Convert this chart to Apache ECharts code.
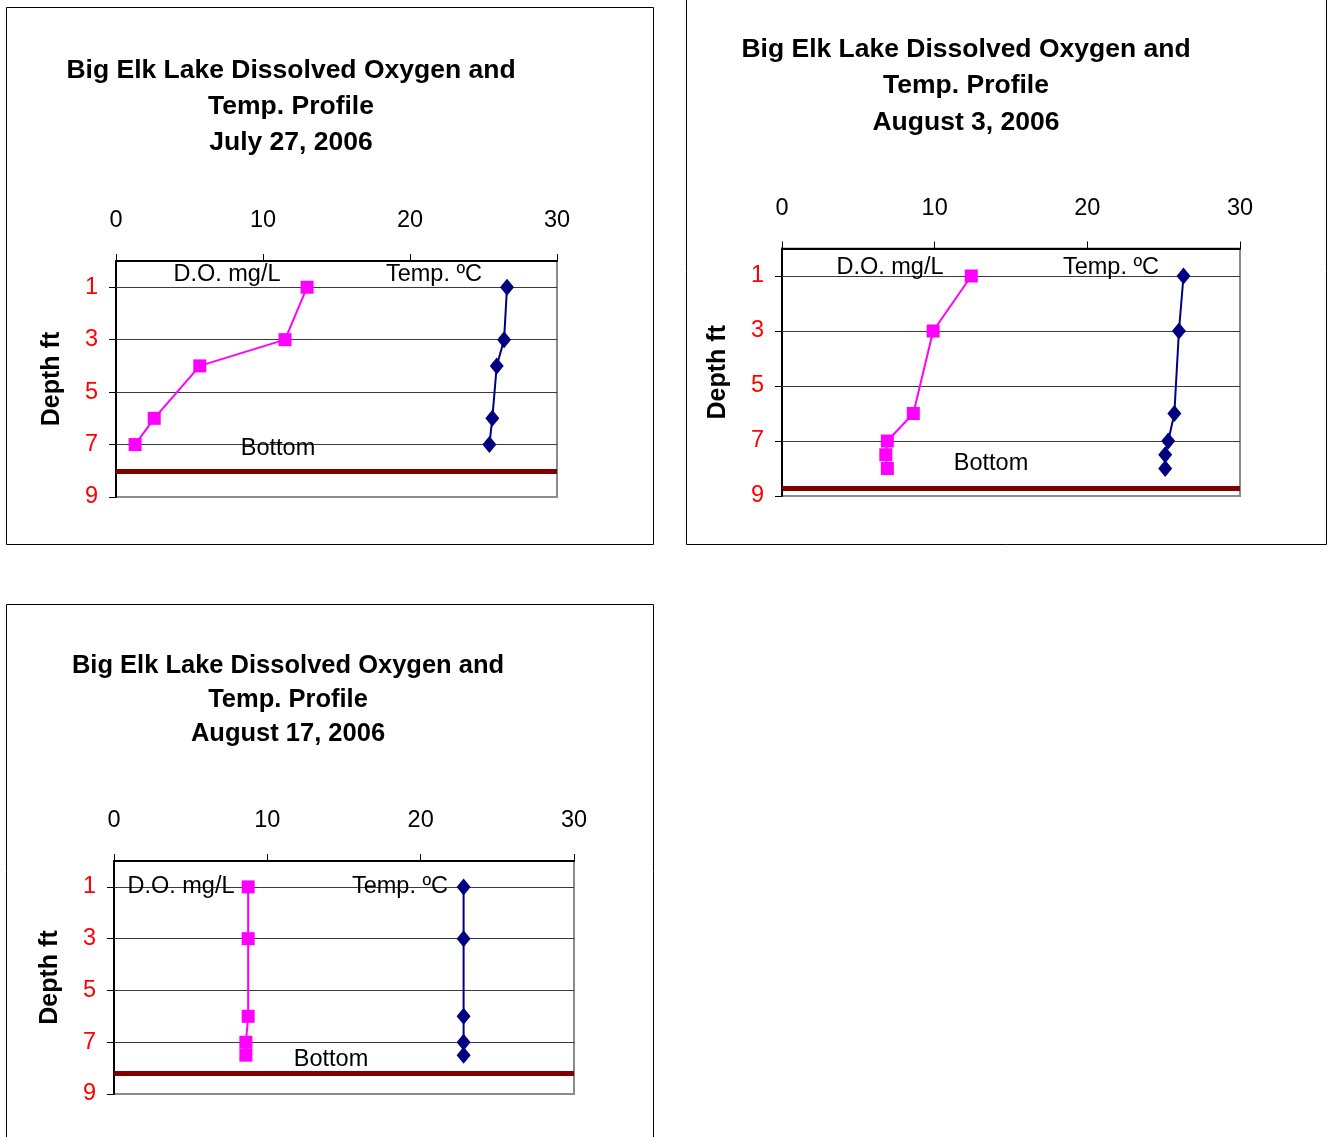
<!DOCTYPE html>
<html>
<head>
<meta charset="utf-8">
<script src="https://cdn.jsdelivr.net/npm/echarts@6/dist/echarts.min.js"></script>
<style>
html,body{margin:0;padding:0;background:#fff;}
#c{width:1328px;height:1137px;}
</style>
</head>
<body>
<div id="c"></div>
<script>
// ---- data ----
const titles = [
  'Big Elk Lake Dissolved Oxygen and\nTemp. Profile\nJuly 27, 2006',
  'Big Elk Lake Dissolved Oxygen and\nTemp. Profile\nAugust 3, 2006',
  'Big Elk Lake Dissolved Oxygen and\nTemp. Profile\nAugust 17, 2006'
];
const xTicks = [0, 10, 20, 30];
const depthTicks = [1, 3, 5, 7, 9];
const gridDepths = [1, 3, 5, 7];

const depth1 = [1, 3, 4, 6, 7];
const do1    = [13.0, 11.5, 5.7, 2.6, 1.3];
const temp1  = [26.6, 26.4, 25.9, 25.6, 25.4];

const depth2 = [1, 3, 6, 7, 7.5, 8];
const do2    = [12.4, 9.9, 8.6, 6.9, 6.8, 6.9];
const temp2  = [26.3, 26.0, 25.7, 25.3, 25.1, 25.1];

const depth3 = [1, 3, 6, 7, 7.5];
const do3    = [8.75, 8.75, 8.75, 8.6, 8.6];
const temp3  = [22.8, 22.8, 22.8, 22.8, 22.8];

const bottomDepth = [8, 8.7, 8.2];

const doName = 'D.O. mg/L';
const tempName = 'Temp. ºC';
const bottomName = 'Bottom';
const yName = 'Depth ft';

// ---- layout ----
const FONT = 'Liberation Sans';
const LBL = 23.5;
const layouts = [
  {grid:{left:116, top:261, width:441, height:236}, title:{x:291, y:53, lh:36, fs:26.5},
   box:{x:6.5, y:7.5, width:647, height:537},
   ann:{doX:227, doY:275, tX:434, tY:275, bX:278, bY:449}},
  {grid:{left:782, top:248.5, width:458, height:247.5}, title:{x:966, y:31, lh:36.5, fs:26.5},
   box:{x:686.5, y:-5, width:640, height:549.5},
   ann:{doX:890, doY:268, tX:1111, tY:268, bX:991, bY:464}},
  {grid:{left:114, top:861, width:460, height:233}, title:{x:288, y:649, lh:34, fs:25.5},
   box:{x:6.5, y:604.5, width:647, height:600},
   ann:{doX:181, doY:887, tX:400, tY:887, bX:331, bY:1060}}
];
const datasets = [
  {depth:depth1, dO:do1, temp:temp1},
  {depth:depth2, dO:do2, temp:temp2},
  {depth:depth3, dO:do3, temp:temp3}
];

const option = {
  animation:false,
  backgroundColor:'#fff',
  textStyle:{fontFamily:FONT},
  title:[], grid:[], xAxis:[], yAxis:[], series:[], graphic:[]
};

layouts.forEach((L, i) => {
  const d = datasets[i];
  option.title.push({
    text: titles[i], left: L.title.x, top: L.title.y, textAlign:'center', padding:0,
    textStyle:{fontFamily:FONT, fontSize:L.title.fs, fontWeight:'bold', color:'#000', lineHeight:L.title.lh}
  });
  option.grid.push(Object.assign({show:true, borderColor:'#8c8c8c', borderWidth:2, backgroundColor:'transparent'}, L.grid));
  option.xAxis.push({
    type:'value', gridIndex:i, position:'top', min:xTicks[0], max:xTicks[xTicks.length-1], interval:10,
    axisLine:{show:true, lineStyle:{color:'#000', width:2}},
    axisTick:{show:true, inside:false, length:7, lineStyle:{color:'#000', width:1}},
    axisLabel:{fontFamily:FONT, fontSize:LBL, color:'#000', margin:28},
    splitLine:{show:false}
  });
  option.yAxis.push({
    type:'value', gridIndex:i, inverse:true, min:0, max:9,
    name:yName, nameLocation:'middle', nameRotate:90, nameGap:51,
    nameTextStyle:{fontFamily:FONT, fontSize:25, fontWeight:'bold', color:'#000'},
    axisLine:{show:true, onZero:false, lineStyle:{color:'#000', width:2}},
    axisTick:{show:true, inside:false, length:7, customValues:depthTicks, lineStyle:{color:'#000', width:1}},
    axisLabel:{fontFamily:FONT, fontSize:LBL, color:'#ff0000', margin:18, customValues:depthTicks},
    splitLine:{show:false}
  });
  const gridLines = gridDepths.map(v => ({yAxis:v}));
  gridLines.push({yAxis:bottomDepth[i], lineStyle:{color:'#800000', width:5, type:'solid'}});
  option.series.push({
    type:'line', xAxisIndex:i, yAxisIndex:i, name:doName,
    data:d.depth.map((dep, k) => [d.dO[k], dep]),
    symbol:'rect', symbolSize:13, showSymbol:true,
    lineStyle:{color:'#ff00ff', width:2}, itemStyle:{color:'#ff00ff'},
    z:5,
    markLine:{silent:true, symbol:'none', label:{show:false}, z:2,
      lineStyle:{color:'#3a3a3a', width:1, type:'solid'}, data:gridLines}
  });
  option.series.push({
    type:'line', xAxisIndex:i, yAxisIndex:i, name:tempName,
    data:d.depth.map((dep, k) => [d.temp[k], dep]),
    symbol:'diamond', symbolSize:[14,17], showSymbol:true,
    lineStyle:{color:'#000080', width:2}, itemStyle:{color:'#000080'},
    z:5
  });
  option.graphic.push({type:'rect', shape:L.box, style:{fill:'none', stroke:'#000', lineWidth:1}, z:0, silent:true});
  const txt = (t, x, y) => ({type:'text', x:x, y:y, z:10, silent:true,
    style:{text:t, fontFamily:FONT, fontSize:LBL, fill:'#000', align:'center', verticalAlign:'middle'}});
  option.graphic.push(txt(doName, L.ann.doX, L.ann.doY));
  option.graphic.push(txt(tempName, L.ann.tX, L.ann.tY));
  option.graphic.push(txt(bottomName, L.ann.bX, L.ann.bY));
});

const chart = echarts.init(document.getElementById('c'), null, {renderer:'canvas'});
chart.setOption(option);
</script>
</body>
</html>
